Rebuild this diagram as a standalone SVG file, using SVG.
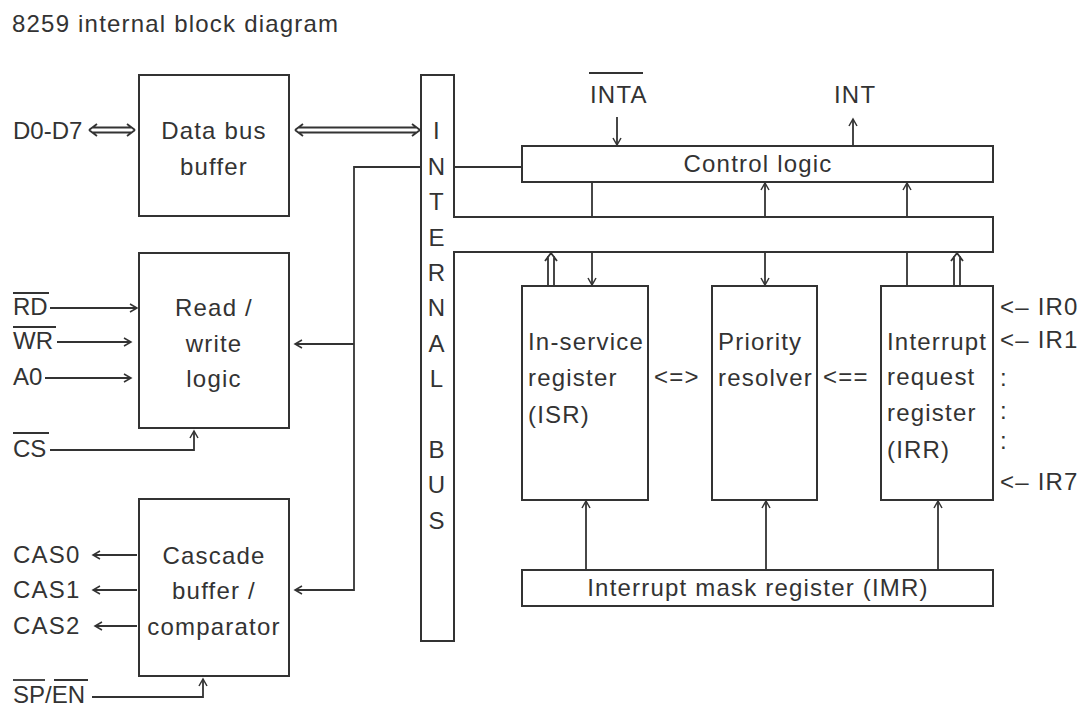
<svg xmlns="http://www.w3.org/2000/svg" width="1080" height="709" viewBox="0 0 1080 709">
<style>
text{font-family:"Liberation Sans",Arial,sans-serif;font-size:24px;fill:#333;letter-spacing:1.2px}
.c{text-anchor:middle}
.t{letter-spacing:0}
.box{fill:#fff;stroke:#333;stroke-width:2}
.ln{fill:none;stroke:#333;stroke-width:1.8}
.ov{stroke:#333;stroke-width:1.8}
</style>
<defs>
<marker id="a" markerWidth="12" markerHeight="12" refX="10" refY="6" orient="auto" markerUnits="userSpaceOnUse">
<path d="M3,2 L10,6 L3,10" fill="none" stroke="#333" stroke-width="1.5"/>
</marker>
</defs>
<rect width="1080" height="709" fill="#fff"/>
<text x="12" y="32">8259 internal block diagram</text>

<g id="bus">
<path class="box" d="M421,75 H454 V217 H993 V252 H454 V641 H421 Z"/>
<text class="c" x="437" y="139">I</text>
<text class="c" x="437" y="175">N</text>
<text class="c" x="437" y="210">T</text>
<text class="c" x="437" y="246">E</text>
<text class="c" x="437" y="281">R</text>
<text class="c" x="437" y="316">N</text>
<text class="c" x="437" y="352">A</text>
<text class="c" x="437" y="387">L</text>
<text class="c" x="437" y="458">B</text>
<text class="c" x="437" y="493">U</text>
<text class="c" x="437" y="529">S</text>
</g>

<g id="databus">
<rect class="box" x="139" y="75" width="150" height="141"/>
<text class="c" x="214" y="139">Data bus</text>
<text class="c" x="214" y="175">buffer</text>
</g>

<g id="rwlogic">
<rect class="box" x="139" y="253" width="150" height="175"/>
<text class="c" x="214" y="316">Read /</text>
<text class="c" x="214" y="352">write</text>
<text class="c" x="214" y="387">logic</text>
</g>

<g id="cascade">
<rect class="box" x="139" y="499" width="150" height="177"/>
<text class="c" x="214" y="564">Cascade</text>
<text class="c" x="214" y="599">buffer /</text>
<text class="c" x="214" y="635">comparator</text>
</g>

<g id="control">
<rect class="box" x="522" y="146" width="471" height="36"/>
<text class="c" x="758" y="172">Control logic</text>
</g>

<g id="isr">
<rect class="box" x="522" y="286" width="126" height="214"/>
<text x="528" y="350">In-service</text>
<text x="528" y="386">register</text>
<text x="528" y="423">(ISR)</text>
</g>

<g id="priority">
<rect class="box" x="712" y="286" width="105" height="214"/>
<text x="718" y="350">Priority</text>
<text x="718" y="386">resolver</text>
</g>

<g id="irr">
<rect class="box" x="881" y="286" width="112" height="214"/>
<text x="887" y="350">Interrupt</text>
<text x="887" y="385">request</text>
<text x="887" y="421">register</text>
<text x="887" y="458">(IRR)</text>
</g>

<g id="imr">
<rect class="box" x="522" y="570" width="471" height="36"/>
<text class="c" x="758" y="596">Interrupt mask register (IMR)</text>
</g>

<g id="labels">
<text class="t" x="13" y="139">D0-D7</text>
<text class="t" x="13" y="315">RD</text>
<line class="ov" x1="13" y1="293" x2="49" y2="293"/>
<text class="t" x="13" y="349">WR</text>
<line class="ov" x1="13" y1="327" x2="56" y2="327"/>
<text class="t" x="13" y="385">A0</text>
<text class="t" x="13" y="457">CS</text>
<line class="ov" x1="13" y1="433" x2="49" y2="433"/>
<text x="13" y="563">CAS0</text>
<text x="13" y="598">CAS1</text>
<text x="13" y="634">CAS2</text>
<text class="t" x="13" y="703">SP/EN</text>
<line class="ov" x1="13" y1="680" x2="45" y2="680"/>
<line class="ov" x1="54" y1="680" x2="88" y2="680"/>
<text x="590" y="103">INTA</text>
<line class="ov" x1="589" y1="73" x2="643" y2="73"/>
<text x="834" y="103">INT</text>
<text x="654" y="385">&lt;=&gt;</text>
<text x="823" y="385">&lt;==</text>
<text x="1000" y="315">&lt;– IR0</text>
<text x="1000" y="348">&lt;– IR1</text>
<text x="1000" y="386">:</text>
<text x="1000" y="419">:</text>
<text x="1000" y="449">:</text>
<text x="1000" y="490">&lt;– IR7</text>
</g>

<g id="connectors">
<line class="ln" x1="50" y1="308" x2="137" y2="308" marker-end="url(#a)"/>
<line class="ln" x1="57" y1="342" x2="131" y2="342" marker-end="url(#a)"/>
<line class="ln" x1="45" y1="378" x2="131" y2="378" marker-end="url(#a)"/>
<polyline class="ln" points="50,450 194,450 194,431" marker-end="url(#a)"/>
<polyline class="ln" points="92,697 203,697 203,679" marker-end="url(#a)"/>
<line class="ln" x1="137" y1="555" x2="93" y2="555" marker-end="url(#a)"/>
<line class="ln" x1="137" y1="590" x2="93" y2="590" marker-end="url(#a)"/>
<line class="ln" x1="137" y1="626" x2="95" y2="626" marker-end="url(#a)"/>
<polyline class="ln" points="421,167 354,167 354,590 295,590" marker-end="url(#a)"/>
<line class="ln" x1="354" y1="344" x2="295" y2="344" marker-end="url(#a)"/>
<line class="ln" x1="454" y1="167" x2="522" y2="167"/>
<line class="ln" x1="617" y1="117" x2="617" y2="145" marker-end="url(#a)"/>
<line class="ln" x1="853" y1="146" x2="853" y2="119" marker-end="url(#a)"/>
<line class="ln" x1="592" y1="182" x2="592" y2="217"/>
<line class="ln" x1="765" y1="217" x2="765" y2="183" marker-end="url(#a)"/>
<line class="ln" x1="907" y1="217" x2="907" y2="183" marker-end="url(#a)"/>
<line class="ln" x1="592" y1="252" x2="592" y2="285" marker-end="url(#a)"/>
<line class="ln" x1="765" y1="252" x2="765" y2="285" marker-end="url(#a)"/>
<line class="ln" x1="907" y1="252" x2="907" y2="286"/>
<line class="ln" x1="586" y1="570" x2="586" y2="501" marker-end="url(#a)"/>
<line class="ln" x1="766" y1="570" x2="766" y2="501" marker-end="url(#a)"/>
<line class="ln" x1="938" y1="570" x2="938" y2="501" marker-end="url(#a)"/>
<path class="ln" stroke-width="1.5" d="M89,130 l8,-6 M89,130 l8,6 M92,127.5 H132 M92,132.5 H132 M135,130 l-8,-6 M135,130 l-8,6"/>
<path class="ln" stroke-width="1.5" d="M295,130 l8,-6 M295,130 l8,6 M298,127.5 H417 M298,132.5 H417 M420,130 l-8,-6 M420,130 l-8,6"/>
<path class="ln" stroke-width="1.5" d="M551,253 l-6,8 M551,253 l6,8 M548,256 V286 M554,256 V286"/>
<path class="ln" stroke-width="1.5" d="M957,253 l-6,8 M957,253 l6,8 M954,256 V286 M960,256 V286"/>
</g>
</svg>
